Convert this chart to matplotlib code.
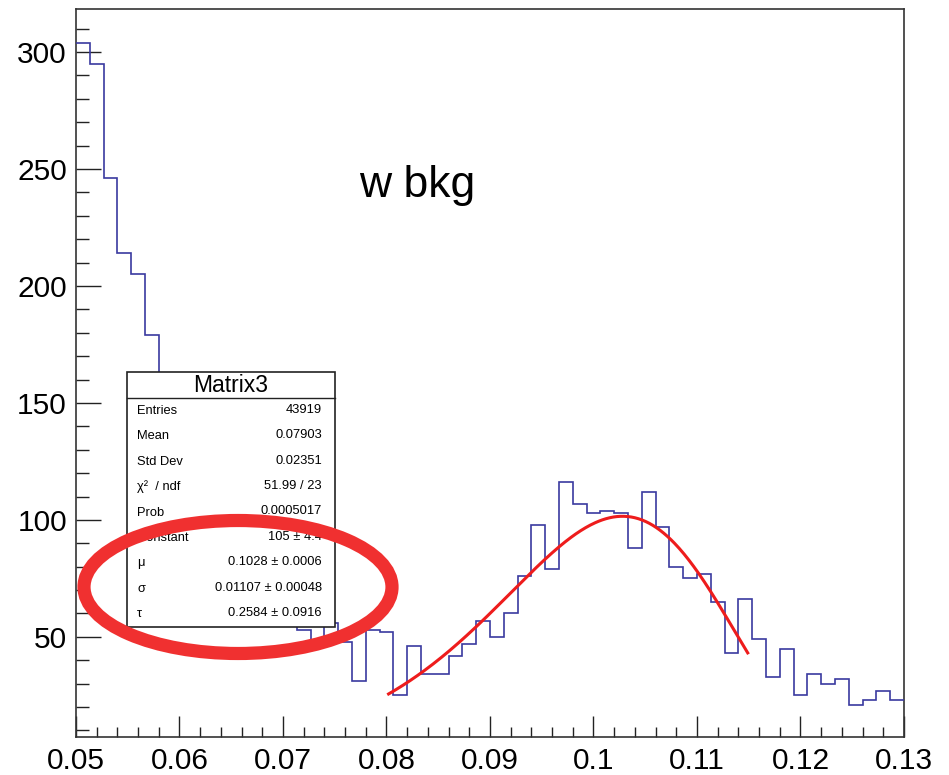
import numpy as np
import matplotlib
matplotlib.use("Agg")
import matplotlib.pyplot as plt
from matplotlib.patches import Ellipse, Rectangle

plt.rcParams['font.family'] = ['Liberation Sans', 'DejaVu Sans']

# ---------------- data ----------------
x_min, x_max, n_bins = 0.05, 0.13, 60
counts = [304, 295, 246, 214, 205, 179, 155, 140, 128, 115,
          104, 93, 84, 74, 66, 60, 53, 48, 56, 48,
          31, 53, 52, 25, 46, 34, 34, 42, 47, 57,
          50, 60, 76, 98, 79, 116, 107, 103, 104, 103,
          88, 112, 97, 80, 75, 77, 65, 43, 66, 49,
          33, 45, 25, 34, 30, 32, 21, 23, 27, 23]

# fit parameters (Novosibirsk-like shape)
fit_const, fit_mu, fit_sigma, fit_tau = 105.0, 0.1028, 0.01107, 0.2584
fit_range = (0.0802, 0.1149)

title_text = "w bkg"
title_pos = (0.0830, 243)
stats_title = "Matrix3"
stats_labels = ["Entries", "Mean", "Std Dev", "\u03c7\u00b2  / ndf", "Prob",
                "Constant", "\u03bc", "\u03c3", "\u03c4"]
stats_values = ["43919", "0.07903", "0.02351", "51.99 / 23", "0.0005017",
                "105 \u00b1 4.4", "0.1028 \u00b1 0.0006",
                "0.01107 \u00b1 0.00048", "0.2584 \u00b1 0.0916"]

xticks = [0.05, 0.06, 0.07, 0.08, 0.09, 0.10, 0.11, 0.12, 0.13]
xticklabels = ["0.05", "0.06", "0.07", "0.08", "0.09", "0.1", "0.11", "0.12", "0.13"]
yticks = [50, 100, 150, 200, 250, 300]

# ---------------- figure ----------------
W, H = 949, 775
fig = plt.figure(figsize=(W / 100, H / 100), dpi=100)
L, R, T, B = 76, 904, 9, 737
ax = fig.add_axes([L / W, (H - B) / H, (R - L) / W, (B - T) / H])

edges = np.linspace(x_min, x_max, n_bins + 1)
ax.stairs(counts, edges, baseline=None, color='#3a3aa0', linewidth=1.2, zorder=3)

def novosibirsk(x, A, mu, sig, tau):
    lam = np.sinh(tau * np.sqrt(np.log(4))) / (tau * np.sqrt(np.log(4)))
    q = 1 - lam * tau * (x - mu) / sig
    return A * np.exp(-0.5 * np.log(q) ** 2 / tau ** 2 - 0.5 * tau ** 2)

xf = np.linspace(fit_range[0], fit_range[1], 300)
ax.plot(xf, novosibirsk(xf, fit_const, fit_mu, fit_sigma, fit_tau),
        color='#ee1c1c', linewidth=2.2, zorder=4)

ax.set_xlim(x_min, x_max)
ax.set_ylim(7.2, 318.4)
ax.set_xticks(xticks)
ax.set_xticklabels(xticklabels)
ax.set_xticks(np.arange(0.05, 0.1301, 0.002), minor=True)
ax.set_yticks(yticks)
ax.set_yticks(np.arange(10, 319, 10), minor=True)
ax.tick_params(axis='both', which='both', direction='in', top=False, right=False,
               labelsize=21.5, width=1.0, color='#222222')
ax.tick_params(axis='y', which='major', length=18, pad=6.5)
ax.tick_params(axis='y', which='minor', length=9)
ax.tick_params(axis='x', which='major', length=15, pad=7)
ax.tick_params(axis='x', which='minor', length=7)
for s in ax.spines.values():
    s.set_linewidth(1.2)
    s.set_color('#333333')

ax.text(title_pos[0], title_pos[1], title_text, fontsize=32, ha='center', va='center',
        zorder=5)

# ---------------- stats box (axes-fraction coords) ----------------
def afx(px):
    return (px - L) / (R - L)

def afy(py):
    return (B - py) / (B - T)

bx0, bx1, by_top, by_bot, by_sep = 127, 335, 372, 627, 398
ax.add_patch(Rectangle((afx(bx0), afy(by_bot)), afx(bx1) - afx(bx0), afy(by_top) - afy(by_bot),
                       transform=ax.transAxes, facecolor='white', edgecolor='#222222',
                       linewidth=1.2, zorder=6, clip_on=False))
ax.plot([afx(bx0), afx(bx1)], [afy(by_sep), afy(by_sep)], transform=ax.transAxes,
        color='#222222', linewidth=1.0, zorder=7, clip_on=False)
ax.text(afx((bx0 + bx1) / 2), afy((by_top + by_sep) / 2 + 1), stats_title,
        transform=ax.transAxes, ha='center', va='center', fontsize=16.5, zorder=8)
row_h = (by_bot - by_sep) / len(stats_labels)
for i, (lab, val) in enumerate(zip(stats_labels, stats_values)):
    yc = by_sep + row_h * (i + 0.5)
    ax.text(afx(137), afy(yc), lab, transform=ax.transAxes, ha='left', va='center',
            fontsize=9.3, zorder=8)
    ax.text(afx(322), afy(yc - 1), val, transform=ax.transAxes, ha='right', va='center',
            fontsize=9.3, zorder=8)

# ---------------- red ellipse annotation ----------------
ecx, ecy, ew, eh = 238, 587, 308, 133
ax.add_patch(Ellipse((afx(ecx), afy(ecy)), ew / (R - L), eh / (B - T),
                     transform=ax.transAxes, fill=False, edgecolor='#f03030',
                     linewidth=9.5, zorder=10, clip_on=False))

fig.savefig("out.png", dpi=100)
